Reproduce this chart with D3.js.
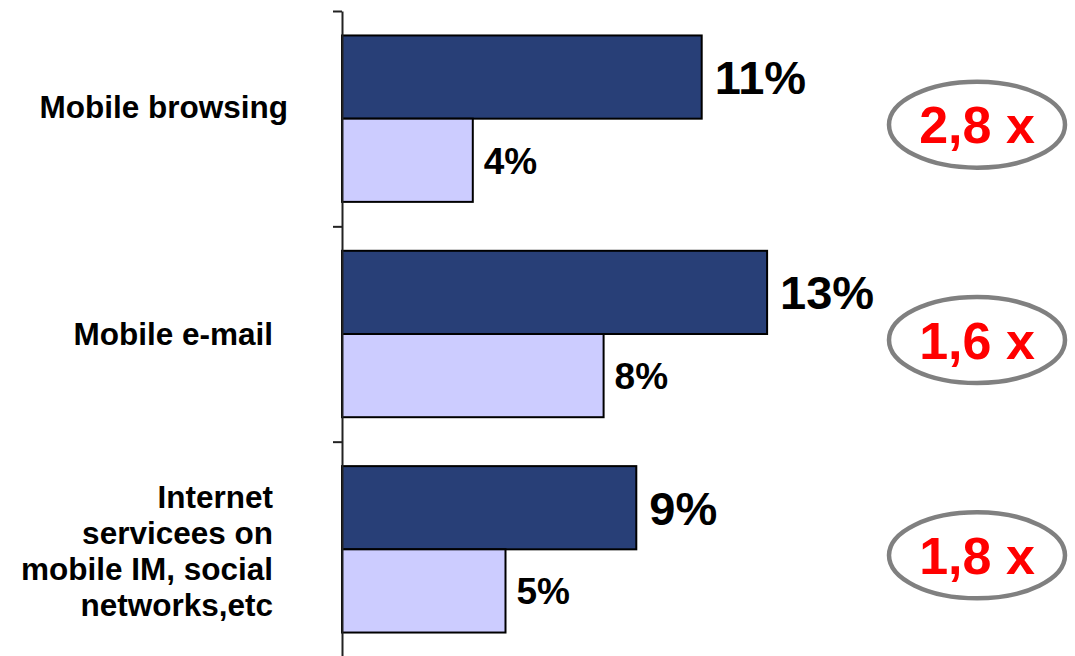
<!DOCTYPE html>
<html>
<head>
<meta charset="utf-8">
<script src="https://cdn.jsdelivr.net/npm/d3@7/dist/d3.min.js"></script>
<style>
  html, body { margin: 0; padding: 0; background: #fff; }
  svg { display: block; font-family: "Liberation Sans", Arial, Helvetica, sans-serif; }
</style>
</head>
<body>
<svg id="chart" width="1075" height="656"></svg>
<script>
// Usage shares by service (%), two periods
const categories = [
  ["Mobile browsing"],
  ["Mobile e-mail"],
  ["Internet", "servicees on", "mobile IM, social", "networks,etc"]
];
const seriesNames = ["current", "previous"];
const currentValues = [11, 13, 9];
const previousValues = [4, 8, 5];
const ratioLabels = ["2,8 x", "1,6 x", "1,8 x"];

const svg = d3.select("#chart");

const plot = { left: 342, top: 11, bottom: 657 };

// category bands down the vertical axis
const y = d3.scaleBand()
  .domain(d3.range(categories.length))
  .range([plot.top, plot.bottom])
  .paddingInner(0).paddingOuter(0);

// the two bars inside each band
const ySub = d3.scaleBand()
  .domain(seriesNames)
  .range([0, y.bandwidth()])
  .paddingInner(0).paddingOuter(0.294);

const x = d3.scaleLinear().domain([0, 20]).range([plot.left, plot.left + 654]);

const colors = { current: "#283F77", previous: "#CCCCFF" };

const rows = categories.map((c, i) => ({
  i,
  lines: c,
  current: currentValues[i],
  previous: previousValues[i],
  ratio: ratioLabels[i]
}));

// bars
const groups = svg.selectAll("g.cat").data(rows).enter().append("g")
  .attr("class", "cat")
  .attr("transform", d => `translate(0,${y(d.i)})`);

seriesNames.forEach(s => {
  groups.append("rect")
    .attr("x", x(0))
    .attr("y", ySub(s))
    .attr("width", d => x(d[s]) - x(0))
    .attr("height", ySub.bandwidth())
    .attr("fill", colors[s])
    .attr("stroke", "#000")
    .attr("stroke-width", 2);

  groups.append("text")
    .attr("x", d => x(d[s]) + (s === "current" ? 13 : 11))
    .attr("y", ySub(s) + ySub.bandwidth() / 2)
    .attr("dy", "0.358em")
    .attr("font-weight", "bold")
    .attr("font-size", s === "current" ? 47 : 37)
    .attr("fill", "#000")
    .text(d => d[s] + "%");
});

// vertical axis with ticks at the band boundaries
const yLin = d3.scaleLinear().domain([plot.top, plot.bottom]).range([plot.top, plot.bottom]);
const boundaries = d3.range(categories.length + 1).map(k => plot.top + k * y.step());
const axis = svg.append("g")
  .attr("transform", `translate(${plot.left},0)`)
  .call(d3.axisLeft(yLin).tickValues(boundaries).tickSize(9).tickSizeOuter(0).tickFormat(""));
axis.select(".domain").attr("stroke", "#222").attr("stroke-width", 2);
axis.selectAll(".tick line").attr("stroke", "#222").attr("stroke-width", 2);

// category labels, right aligned
const fs = 31.5, lh = 36;
const labelRight = 273;
const labelShiftY = [-11.5, 0, 1];
rows.forEach(d => {
  const n = d.lines.length;
  const cy = y(d.i) + y.bandwidth() / 2 + labelShiftY[d.i];
  const nudge = d.i === 0 ? 15 : 0;
  const t = svg.append("text")
    .attr("text-anchor", "end")
    .attr("font-weight", "bold")
    .attr("font-size", fs)
    .attr("fill", "#000");
  d.lines.forEach((line, k) => {
    t.append("tspan")
      .attr("x", labelRight + nudge)
      .attr("y", cy - (n - 1) * lh / 2 + k * lh + 0.358 * fs)
      .text(line);
  });
});

// growth ratio badges
const badge = svg.selectAll("g.badge").data(rows).enter().append("g")
  .attr("class", "badge")
  .attr("transform", d => `translate(977,${y(d.i) + y.bandwidth() / 2 + 6})`);
badge.append("ellipse")
  .attr("rx", 88).attr("ry", 43)
  .attr("fill", "#fff")
  .attr("stroke", "#808080")
  .attr("stroke-width", 4.5);
badge.append("text")
  .attr("text-anchor", "middle")
  .attr("dy", "0.358em")
  .attr("font-weight", "bold")
  .attr("font-size", 52)
  .attr("fill", "#FF0000")
  .text(d => d.ratio);
</script>
</body>
</html>
